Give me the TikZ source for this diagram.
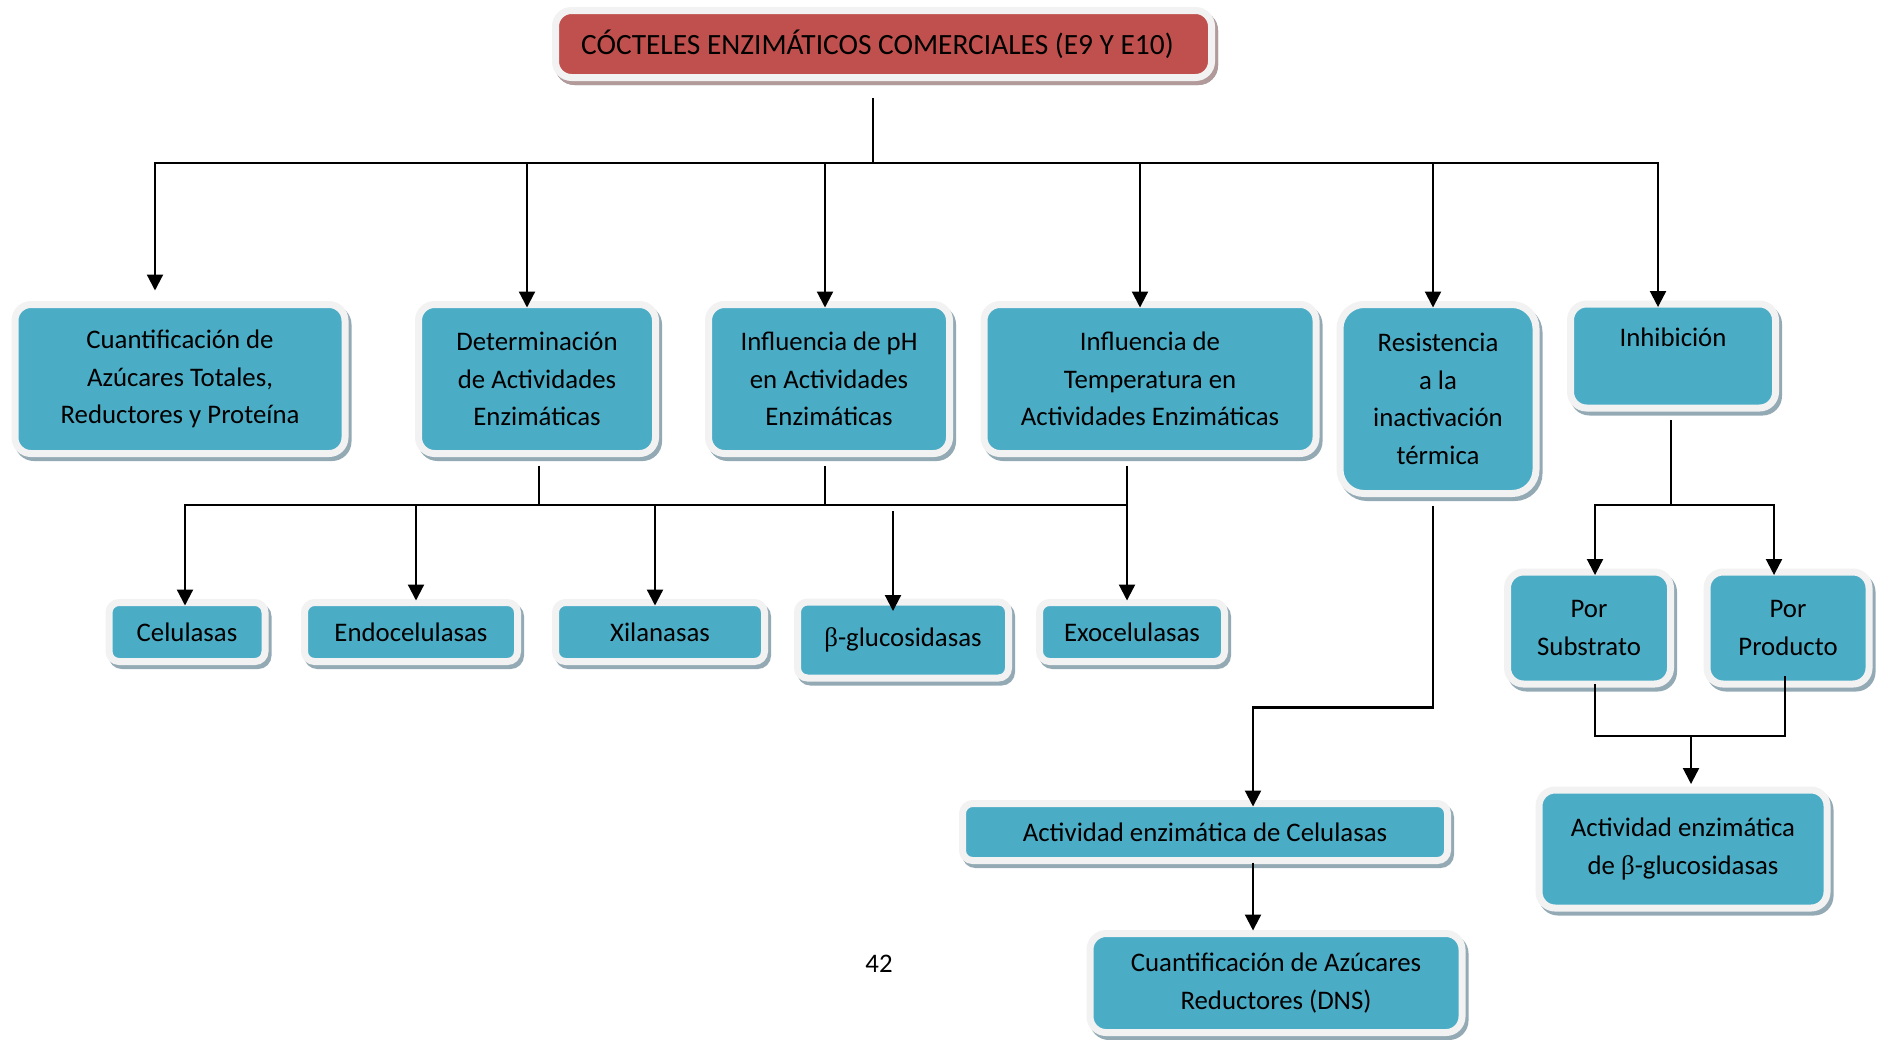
\documentclass[tikz,border=0pt]{standalone}
\usepackage{fontspec}
\setmainfont{Carlito}
\newfontfamily\grkfont{Liberation Serif}
\usetikzlibrary{arrows.meta,calc}
\definecolor{boxteal}{HTML}{4BACC6}
\definecolor{boxred}{HTML}{C0504D}
\definecolor{boxrim}{HTML}{F2F2F2}
\definecolor{tealshade}{HTML}{93AAB5}
\definecolor{redshade}{HTML}{B39A9A}
\newcommand{\bet}{{\grkfont β}}

\begin{document}
\begin{tikzpicture}[
				x=0.5pt, y=-0.5pt,
				every node/.style={font=\fontsize{13.4}{18.75}\selectfont, align=center, inner sep=0, outer sep=0},
				box/.style={rounded corners=8pt, fill=boxteal, draw=boxrim, line width=3.5pt,
					preaction={fill=tealshade, draw=tealshade, line width=3.5pt, transform canvas={xshift=1.5pt, yshift=-2pt}}},
				titlebox/.style={box, fill=boxred, font=\fontsize{14.7}{18.75}\selectfont,
					preaction={fill=redshade, draw=redshade, line width=3.5pt, transform canvas={xshift=1.5pt, yshift=-2pt}}},
				small/.style={box, rounded corners=5pt, minimum height=29.5pt},
				link/.style={line width=1.1pt},
				arr/.style={link, -{Triangle[width=8pt,length=8pt]}},
			]
			\useasboundingbox (0,0) rectangle (1882,1039);
			\node[titlebox, minimum width=328pt, minimum height=33.5pt] (title) at (883.5,44) {CÓCTELES ENZIMÁTICOS COMERCIALES (E9 Y E10)\hspace*{6pt}};
			\node[box, minimum width=165pt, minimum height=74.5pt] (cuant) at (180,379) {Cuantificación de\\Azúcares Totales,\\Reductores y Proteína};
			\node[box, minimum width=118.5pt, minimum height=74.5pt] (deter) at (537,379) {Determinación\\de Actividades\\Enzimáticas};
			\node[box, minimum width=120.5pt, minimum height=74.5pt] (infph) at (829,379) {Influencia de pH\\en Actividades\\Enzimáticas};
			\node[box, minimum width=166pt, minimum height=74.5pt] (inftemp) at (1150,379) {Influencia de\\Temperatura en\\Actividades Enzimáticas};
			\node[box, rounded corners=12pt, minimum width=98pt, minimum height=94.5pt] (resist) at (1438,399) {Resistencia\\a la\\inactivación\\térmica};
			\node[box, minimum width=102.5pt, minimum height=52pt] (inhib) at (1673,356) {Inhibición\\~};
			\node[small, minimum width=78pt] (celul) at (187,632) {Celulasas};
			\node[small, minimum width=106.5pt] (endo) at (411,632) {Endocelulasas};
			\node[small, minimum width=104.5pt] (xilan) at (660,632) {Xilanasas};
			\node[small, minimum width=105.5pt, minimum height=38pt] (bgluc) at (903,640) {\bet-glucosidasas};
			\node[small, minimum width=92.5pt] (exo) at (1132,632) {Exocelulasas};
			\node[box, minimum width=81.5pt, minimum height=56pt] (porsub) at (1589,628) {Por\\Substrato};
			\node[box, minimum width=81pt, minimum height=56pt] (porprod) at (1788,628) {Por\\Producto};
			\node[small, minimum width=242.5pt, minimum height=28.5pt] (actcel) at (1205,832) {Actividad enzimática de Celulasas};
			\node[box, minimum width=186pt, minimum height=49.5pt] (cuantdns) at (1276,983) {Cuantificación de Azúcares\\Reductores (DNS)};
			\node[box, minimum width=144pt, minimum height=59pt] (actbg) at (1683,849) {Actividad enzimática\\de \bet-glucosidasas};
			\node (pagenum) at (879,964) {42};
			\coordinate (trunk) at (873,163);
			\draw[link] ($(title.south -| trunk)+(0,20)$) -- (trunk);
			\draw[arr] (trunk) -| ($(cuant.north)+(-25,-14)$);
			\draw[arr] (trunk) -| ($(deter.north)+(-10,3)$);
			\draw[arr] (trunk) -| ($(infph.north)+(-4,3)$);
			\draw[arr] (trunk) -| ($(inftemp.north)+(-10,3)$);
			\draw[arr] (trunk) -| ($(resist.north)+(-5,3)$);
			\draw[arr] (trunk) -| ($(inhib.north)+(-15,3)$);
			\coordinate (mid) at (825,505);
			\draw[link] ($(deter.south)+(2,12)$) |- (mid);
			\draw[link] ($(infph.south)+(-4,12)$) -- (mid);
			\draw[link] (mid) -- ++(302,0);
			\draw[arr] (mid) -| ($(celul.north)+(-2,3)$);
			\draw[arr] (mid) -| ($(endo.north)+(5,-2)$);
			\draw[arr] (mid) -| ($(xilan.north)+(-5,3)$);
			\draw[arr] ($(mid)+(68,6)$) -- ($(bgluc.north)+(-10,9)$);
			\draw[arr] ($(inftemp.south)+(-23,12)$) -- ($(exo.north)+(-5,-2)$);
			\draw[arr] ($(resist.south)+(-5,12)$) |- ($(actcel.north)+(48,-96)$) -- ($(actcel.north)+(48,3)$);
			\draw[arr] ($(actcel.south)+(48,2)$) -- ($(cuantdns.north)+(-23,-3)$);
			\coordinate (ib) at (1671,505);
			\draw[link] ($(inhib.south)+(-2,12)$) -- (ib);
			\draw[arr] (ib) -| ($(porsub.north)+(6,3)$);
			\draw[arr] (ib) -| ($(porprod.north)+(-14,3)$);
			\coordinate (jb) at (1691,736);
			\draw[link] ($(porsub.south)+(6,0)$) |- (jb);
			\draw[link] ($(porprod.south)+(-3,-8)$) |- (jb);
			\draw[arr] (jb) -- ($(actbg.north)+(8,-6)$);
			\end{tikzpicture}
\end{document}
